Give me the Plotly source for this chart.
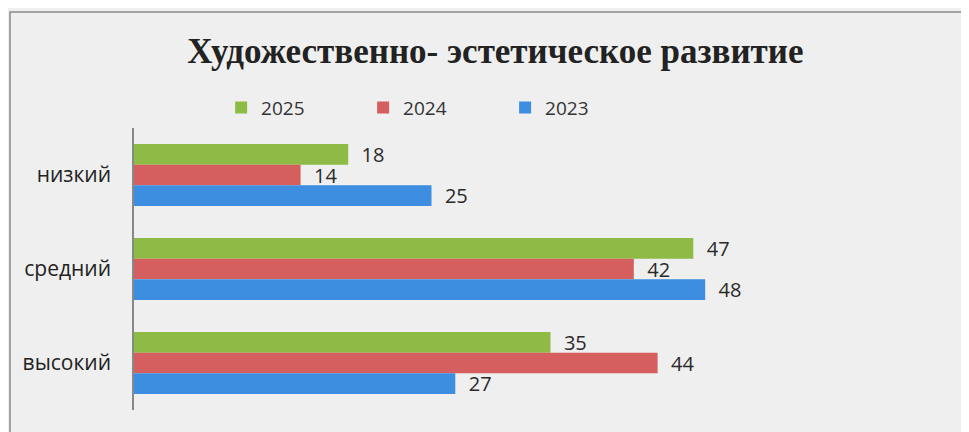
import plotly.graph_objects as go

categories = ["низкий", "средний", "высокий"]
series_names = ["2025", "2024", "2023"]
values_2025 = [18, 47, 35]
values_2024 = [14, 42, 44]
values_2023 = [25, 48, 27]
colors = ["#8dbb45", "#d55e5e", "#3d8de0"]

fig = go.Figure()
for name, vals, col in zip(series_names, [values_2025, values_2024, values_2023], colors):
    fig.add_trace(go.Bar(
        y=categories, x=vals, name=name, orientation="h",
        marker=dict(color=col, line=dict(width=0)),
        text=["  " + str(v) for v in vals], textposition="outside",
        constraintext="none", textangle=0,
        textfont=dict(family="Open Sans, sans-serif", size=20, color="#2a2a2a"),
        cliponaxis=False,
    ))

fig.update_layout(
    width=969, height=432,
    paper_bgcolor="#efefef", plot_bgcolor="#efefef",
    margin=dict(l=126, r=129, t=120, b=30, autoexpand=False),
    barmode="group", bargap=0.34, bargroupgap=0,
    title=dict(text="<b>Художественно- эстетическое развитие</b>",
               x=0.506, xref="paper", xanchor="center", y=0.90, yanchor="middle",
               font=dict(family="Liberation Serif, serif", size=35, color="#222222")),
    legend=dict(orientation="h", x=0.122, xanchor="left", y=1.072, yanchor="middle",
                font=dict(family="Open Sans, sans-serif", size=19, color="#333333"),
                itemwidth=30, entrywidth=97, bgcolor="rgba(0,0,0,0)"),
    showlegend=True,
    xaxis=dict(range=[0, 60], visible=False, showgrid=False, zeroline=False, automargin=False),
    yaxis=dict(autorange="reversed", showline=True, linecolor="#888888", linewidth=1.5,
               ticks="", ticklabelstandoff=17, showgrid=False, automargin=False,
               tickfont=dict(family="Open Sans, sans-serif", size=21, color="#222222")),
    font=dict(family="Open Sans, sans-serif"),
)

# outer chart frame
fig.add_shape(type="rect", xref="paper", yref="paper",
              x0=(10 - 134) / 714, x1=2.0, y0=-1.0, y1=1 + (128 - 12) / 282,
              line=dict(color="#8a8a8a", width=1.5), fillcolor="rgba(0,0,0,0)", layer="below")

fig.write_html("out.html")
